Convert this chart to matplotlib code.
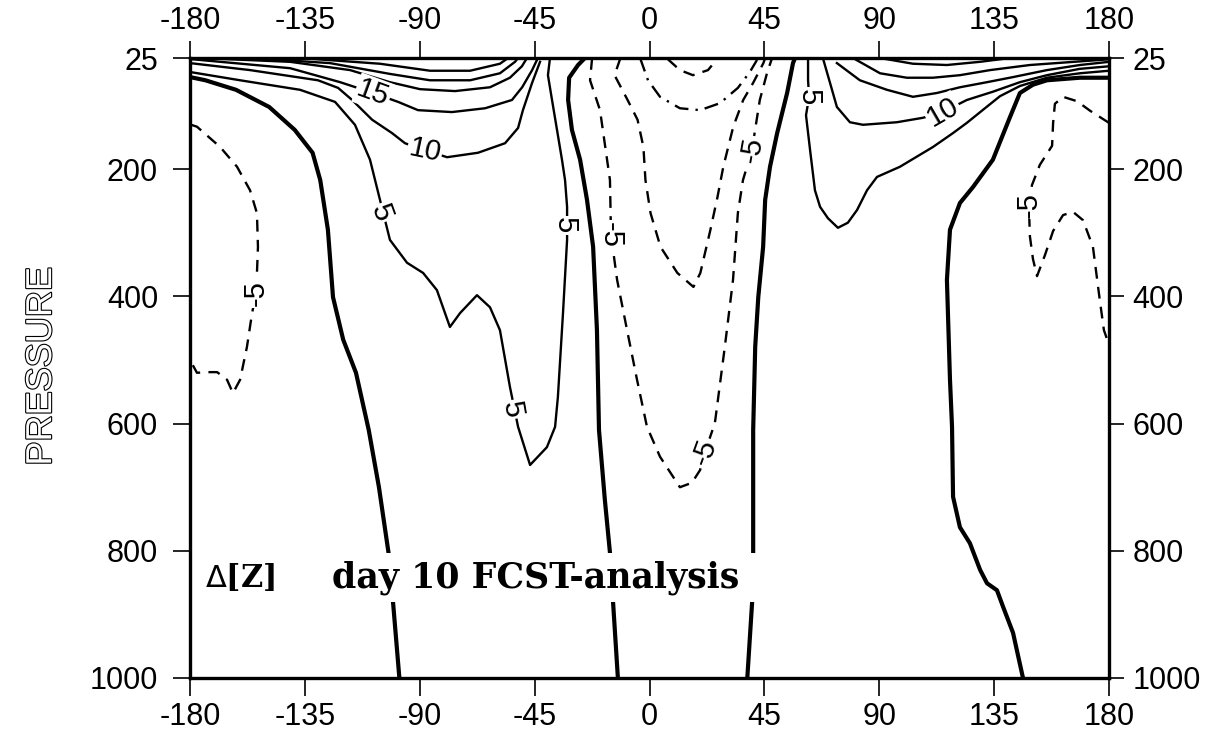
import numpy as np
import matplotlib.pyplot as plt
from matplotlib import patheffects

# ---- contour traces (longitude, pressure hPa) ----
# zero lines (thick)
zero_a_lon = [-180, -174, -162, -149, -139, -132, -129, -126, -124, -120, -115, -110, -106, -102, -100.5, -98]
zero_a_p = [55, 60, 75, 102, 138, 174, 217, 295, 401, 468, 520, 610, 700, 810, 880, 1000]
zero_b_lon = [-25.3, -28, -31.5, -31.9, -30.4, -27.2, -24.5, -22.1, -20.6, -19.8, -17.5, -15.5, -14.3, -12.4]
zero_b_p = [25, 36, 56, 91, 138, 185, 248, 322, 453, 610, 720, 803, 880, 1000]
zero_c_lon = [57, 56.2, 53.9, 50, 47.2, 45.3, 44.5, 42.6, 41.4, 40.6, 40.6, 40.2, 38.3]
zero_c_p = [25, 33, 80, 143, 196, 248, 322, 401, 479, 610, 810, 880, 1000]
zero_d_lon = [180, 168.6, 155.7, 150.2, 145.1, 141.2, 134.5, 126.7, 121.6, 117.7, 116.5, 117.7,
              118.5, 118.9, 121.6, 125.5, 129.5, 132.2, 136.1, 138.5, 142.4, 146.3]
zero_d_p = [56, 56, 60, 67, 80, 118, 185, 228, 253, 295, 374, 531,
            605, 715, 763, 788, 830, 851, 862, 888, 929, 1000]

# positive contours (thin solid)
pos5_w_lon = [-180, -160.4, -136.9, -123.2, -115.4, -109.5, -105.6, -101.7, -95, -88.7, -83.3, -78.2,
              -74.2, -67.6, -62.5, -58.6, -54.7, -51.5, -46.8, -40.2, -37, -35.9, -33.9, -32.3,
              -32.3, -33.1, -34.3, -38.2, -39.8, -39]
pos5_w_p = [47, 60, 75, 94, 130, 185, 248, 311, 347, 363, 390, 448,
            426, 398, 417, 453, 542, 605, 665, 637, 605, 558, 426, 311,
            259, 217, 185, 91, 52, 25]
pos10_w_lon = [-180, -156.5, -129.9, -122, -116.5, -108.7, -100.9, -95.8, -88, -79.3, -67.2, -56.6,
               -51.5, -49.6, -46, -42.9]
pos10_w_p = [33, 44, 60, 72, 91, 122, 143, 159, 170, 181, 174, 159, 135, 107, 64, 31]
pos15_w_lon = [-179, -140.8, -121.2, -108.3, -98.5, -90.7, -77.4, -64.4, -53.9, -49.9, -46, -44.1]
pos15_w_p = [27, 41, 63, 80, 94, 107, 110, 104, 91, 71, 44, 28]
pos20_w_lon = [-176.1, -140.8, -117.3, -101.7, -89.9, -76.2, -62.5, -54.7, -50, -48]
pos20_w_p = [25, 31, 44, 63, 74, 77, 71, 56, 38, 25]
pos25_w_lon = [-156.5, -125.2, -101.7, -86, -70.3, -58.6, -52.7, -51.5]
pos25_w_p = [25, 33, 50, 60, 60, 49, 31, 25]
pos30_w_lon = [-136.9, -105.6, -86, -70.3, -58.6, -55.4]
pos30_w_p = [25, 34, 45, 45, 34, 25]

pos5_e_lon = [62.1, 62.1, 62.5, 61.3, 62.9, 64.8, 66.8, 69.9, 73.8, 77.7, 81.3, 85.2, 89.1, 98.1,
              111, 118.9, 124.3, 131.4, 137.3, 145.1, 155.7, 168.6, 180]
pos5_e_p = [25, 60, 86, 115, 170, 233, 259, 277, 292, 284, 264, 233, 212, 196,
            165, 143, 127, 104, 85, 69, 56, 49, 45]
pos10_e_lon = [67.9, 70.7, 73.4, 78.5, 83.6, 96.9, 107.1, 114.9, 124.3, 134.5, 145.1, 155.7, 168.6, 180]
pos10_e_p = [25, 64, 102, 126, 130, 126, 119, 110, 91, 78, 63, 52, 42, 38]
pos15_e_lon = [73.4, 82.4, 93, 103.2, 112.6, 121.6, 132.2, 142.4, 155.7, 168.6, 180]
pos15_e_p = [33, 60, 75, 86, 80, 71, 63, 55, 44, 36, 31]
pos20_e_lon = [79.7, 90.3, 100.8, 111, 121.6, 133.4, 149, 180]
pos20_e_p = [25, 49, 56, 56, 52, 44, 36, 27]
pos25_e_lon = [90.3, 103.2, 116.5, 129.4, 141.2]
pos25_e_p = [25, 34, 36, 31, 25]

# negative contours (dashed)
neg5_w_lon = [-179.6, -177.3, -168.2, -161.6, -156.5, -153.8, -153.4, -154.1, -155.7, -157.7, -160.4,
              -163.2, -165.5, -169.4, -173.3, -177.3, -179.6]
neg5_w_p = [130, 133, 165, 196, 233, 269, 322, 395, 426, 479, 531, 552, 531, 519, 519, 520, 503]
neg5_c_lon = [-22.5, -23.3, -19.4, -15.5, -15.1, -12.7, -8.8, -4.9, -1.0, 4.1, 11.9, 16.6, 19.8,
              21.7, 25.6, 29.5, 32.7, 34.6, 36.6, 40.1, 43.2, 46, 48]
neg5_c_p = [25, 60, 107, 217, 303, 374, 453, 531, 605, 652, 700, 693, 673,
            645, 599, 479, 374, 269, 217, 170, 91, 49, 25]
neg10_c_lon = [-11.4, -13.7, -8.6, -4.7, -2.4, -1.6, 0.4, 4.3, 10.9, 17.2, 19.9, 23.8, 26.6, 28.9,
               32.8, 36.7, 40.6, 44.6, 45.3]
neg10_c_p = [25, 52, 91, 122, 165, 217, 269, 322, 363, 385, 363, 296, 244, 196, 133, 91, 64, 33, 25]
neg15_c_lon = [-3.7, -0.6, 4.1, 11.9, 19.8, 27.6, 34.6, 39.3, 42.1]
neg15_c_p = [25, 60, 86, 104, 107, 96, 72, 47, 28]
neg20_c_lon = [7.2, 11.9, 17, 22.9, 26.4]
neg20_c_p = [27, 44, 52, 44, 27]
neg5_e_lon = [180, 172.6, 167.5, 162, 158.8, 158.1, 157.7, 152.9, 149.8, 148.6, 149, 150.2, 151.8,
              154.9, 158.1, 162, 165.9, 169.8, 173.7, 176.4, 178, 180]
neg5_e_p = [127, 108, 93, 86, 97, 127, 163, 193, 225, 256, 305, 341, 368,
            335, 297, 272, 267, 280, 322, 406, 453, 476]

# contour labels
label_text = ['15', '10', '5', '5', '5', '-5', '-5', '-5', '5', '10', '-5', '-5']
label_lon = [-108.3, -88, -105.2, -53.9, -33.1, -15.1, 21.7, 40.1, 62.5, 114.9, 148.6, -154.1]
label_p = [80, 170, 269, 578, 288, 303, 645, 170, 86, 110, 256, 395]
label_rot = [-20, -12, -70, -80, -90, -90, 70, 80, -90, 30, 90, 90]

lon_ticks = [-180, -135, -90, -45, 0, 45, 90, 135, 180]
p_ticks = [25, 200, 400, 600, 800, 1000]

# ---- figure ----
fig = plt.figure(figsize=(12.23, 7.40), dpi=100)
ax = fig.add_axes([0.1554, 0.0838, 0.7514, 0.8378])

zero_style = dict(color='black', lw=3.0, solid_capstyle='butt')
pos_style = dict(color='black', lw=1.7)
neg_style = dict(color='black', lw=1.7, linestyle=(0, (5, 3.5)))

for lon, p in [(zero_a_lon, zero_a_p), (zero_b_lon, zero_b_p),
               (zero_c_lon, zero_c_p), (zero_d_lon, zero_d_p)]:
    ax.plot(lon, p, **zero_style)

for lon, p in [(pos5_w_lon, pos5_w_p), (pos10_w_lon, pos10_w_p), (pos15_w_lon, pos15_w_p),
               (pos20_w_lon, pos20_w_p), (pos25_w_lon, pos25_w_p), (pos30_w_lon, pos30_w_p),
               (pos5_e_lon, pos5_e_p), (pos10_e_lon, pos10_e_p), (pos15_e_lon, pos15_e_p),
               (pos20_e_lon, pos20_e_p), (pos25_e_lon, pos25_e_p)]:
    ax.plot(lon, p, **pos_style)

for lon, p in [(neg5_w_lon, neg5_w_p), (neg5_c_lon, neg5_c_p), (neg10_c_lon, neg10_c_p),
               (neg20_c_lon, neg20_c_p), (neg5_e_lon, neg5_e_p)]:
    ax.plot(lon, p, **neg_style)
ax.plot(neg15_c_lon, neg15_c_p, color='black', lw=1.7, linestyle=(0, (6, 3, 1, 3)))

for t, x, y, r in zip(label_text, label_lon, label_p, label_rot):
    ax.text(x, y, t, rotation=r, ha='center', va='center', fontsize=21,
            family='Liberation Sans', rotation_mode='anchor', zorder=5,
            bbox=dict(boxstyle='square,pad=0.05', fc='white', ec='none'))

ax.text(-174.1, 857, r'$\Delta$[Z]', fontsize=22, family='DejaVu Serif', weight='bold',
        va='baseline', ha='left', zorder=6)
ax.text(-124.4, 857, 'day 10 FCST-analysis  ', fontsize=25, family='DejaVu Serif', weight='bold',
        va='baseline', ha='left', zorder=6,
        bbox=dict(boxstyle='square,pad=0.2', fc='white', ec='none'))

ax.set_xlim(-180, 180)
ax.set_ylim(1000, 25)
ax.set_xticks(lon_ticks)
ax.set_xticklabels([str(v) for v in lon_ticks])
ax.set_yticks(p_ticks)
ax.set_yticklabels([str(v) for v in p_ticks])

for s in ax.spines.values():
    s.set_linewidth(2.4)

ax.tick_params(axis='x', direction='out', length=13, width=1.2, labelsize=22, pad=4)
ax.tick_params(axis='y', direction='out', length=12, width=1.2, labelsize=22, pad=11)

top = ax.secondary_xaxis('top')
top.set_xticks(lon_ticks)
top.set_xticklabels([str(v) for v in lon_ticks])
top.tick_params(direction='out', length=12, width=1.2, labelsize=22, pad=4)
right = ax.secondary_yaxis('right')
right.set_yticks(p_ticks)
right.set_yticklabels([str(v) for v in p_ticks])
right.tick_params(direction='out', length=11, width=1.2, labelsize=22, pad=6)

for a in [ax, top, right]:
    for lbl in a.get_xticklabels() + a.get_yticklabels():
        lbl.set_family('Liberation Sans')

fig.text(0.034, 0.505, 'PRESSURE', rotation=90, ha='center', va='center', fontsize=26,
         family='Liberation Sans', color='white',
         path_effects=[patheffects.withStroke(linewidth=1.6, foreground='black')])

fig.savefig('out.png', dpi=100, facecolor='white')
